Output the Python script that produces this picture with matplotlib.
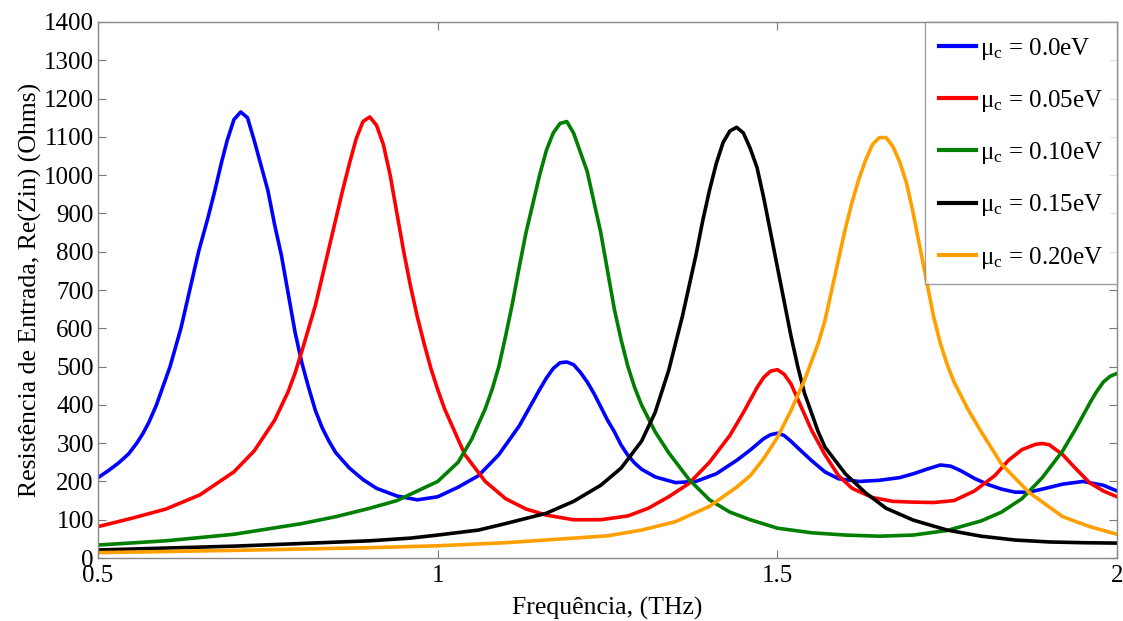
import matplotlib.pyplot as plt
from matplotlib.ticker import FuncFormatter

# Re(Zin) readings per chemical potential (frequency in THz, resistance in Ohms)
f_00 = [0.50, 0.515, 0.53, 0.545, 0.557, 0.566, 0.575, 0.586, 0.596, 0.606, 0.614, 0.622, 0.635, 0.648, 0.662,
        0.672, 0.682, 0.69, 0.70, 0.71, 0.72, 0.73, 0.74, 0.75, 0.76, 0.77, 0.78, 0.79, 0.80, 0.81,
        0.82, 0.83, 0.84, 0.85, 0.87, 0.89, 0.91, 0.94, 0.97, 1.00, 1.03, 1.06, 1.09, 1.12, 1.15,
        1.16, 1.17, 1.18, 1.19, 1.20, 1.21, 1.22, 1.23, 1.24, 1.25, 1.26, 1.27, 1.28, 1.29, 1.30,
        1.32, 1.35, 1.38, 1.41, 1.44, 1.46, 1.48, 1.49, 1.50, 1.51, 1.52, 1.53, 1.55, 1.57, 1.59,
        1.62, 1.65, 1.68, 1.70, 1.72, 1.74, 1.755, 1.77, 1.79, 1.81, 1.83, 1.85, 1.87, 1.89, 1.92,
        1.95, 1.98, 2.00]
r_00 = [210, 228, 248, 272, 300, 325, 355, 400, 450, 500, 550, 600, 700, 800, 890,
        960, 1035, 1090, 1145, 1165, 1150, 1090, 1025, 960, 870, 790, 690, 590, 510, 445,
        385, 340, 305, 275, 235, 205, 182, 162, 152, 160, 185, 215, 270, 345, 440,
        470, 495, 510, 512, 505, 485, 460, 430, 395, 360, 330, 295, 268, 248, 232,
        212, 197, 200, 220, 255, 282, 312, 322, 326, 320, 305, 288, 255, 225, 207,
        200, 203, 210, 220, 232, 243, 240, 228, 208, 192, 180, 172, 172, 180, 193,
        200, 190, 175]

f_05 = [0.50, 0.55, 0.60, 0.65, 0.70, 0.73, 0.76, 0.78, 0.79, 0.80, 0.81, 0.82, 0.84, 0.85, 0.86,
        0.87, 0.88, 0.89, 0.90, 0.91, 0.92, 0.93, 0.94, 0.95, 0.96, 0.97, 0.98, 0.99, 1.00, 1.01,
        1.04, 1.07, 1.10, 1.13, 1.16, 1.20, 1.24, 1.28, 1.31, 1.34, 1.37, 1.40, 1.43, 1.45, 1.47,
        1.48, 1.49, 1.50, 1.51, 1.52, 1.53, 1.54, 1.55, 1.57, 1.59, 1.61, 1.64, 1.67, 1.70, 1.73,
        1.76, 1.79, 1.82, 1.84, 1.86, 1.88, 1.89, 1.90, 1.92, 1.94, 1.96, 1.98, 2.00]
r_05 = [82, 104, 128, 165, 225, 280, 360, 435, 483, 540, 600, 660, 810, 885, 960,
        1030, 1095, 1140, 1152, 1130, 1080, 1000, 900, 800, 710, 630, 560, 495, 440, 390,
        270, 200, 155, 128, 112, 100, 100, 110, 130, 160, 195, 250, 320, 380, 445,
        472, 488, 492, 480, 455, 415, 375, 335, 270, 215, 182, 158, 148, 146, 145,
        150, 175, 215, 255, 283, 297, 299, 296, 270, 232, 196, 175, 160]

f_10 = [0.50, 0.60, 0.70, 0.80, 0.85, 0.90, 0.94, 0.97, 1.00, 1.03, 1.05, 1.07, 1.08, 1.09, 1.10,
        1.11, 1.12, 1.13, 1.14, 1.15, 1.16, 1.17, 1.18, 1.19, 1.20, 1.21, 1.22, 1.23, 1.24, 1.25,
        1.26, 1.27, 1.28, 1.29, 1.30, 1.32, 1.34, 1.37, 1.40, 1.43, 1.46, 1.50, 1.55, 1.60, 1.65,
        1.70, 1.75, 1.80, 1.83, 1.86, 1.89, 1.92, 1.94, 1.96, 1.97, 1.98, 1.99, 2.00]
r_10 = [34, 45, 62, 90, 108, 130, 150, 175, 200, 250, 310, 390, 440, 500, 580,
        665, 760, 850, 925, 1000, 1065, 1110, 1135, 1140, 1110, 1060, 1010, 930, 850, 750,
        650, 570, 500, 445, 400, 330, 275, 205, 152, 120, 100, 78, 66, 60, 57,
        60, 72, 97, 120, 155, 210, 280, 340, 405, 435, 460, 475, 482]

f_15 = [0.50, 0.60, 0.70, 0.80, 0.90, 0.96, 1.00, 1.06, 1.10, 1.16, 1.20, 1.24, 1.27, 1.30, 1.32,
        1.34, 1.35, 1.36, 1.37, 1.38, 1.39, 1.40, 1.41, 1.42, 1.43, 1.44, 1.45, 1.46, 1.47, 1.48,
        1.49, 1.50, 1.51, 1.52, 1.53, 1.54, 1.55, 1.56, 1.57, 1.60, 1.63, 1.66, 1.70, 1.75, 1.80,
        1.85, 1.90, 1.95, 2.00]
r_15 = [21, 26, 31, 38, 45, 52, 60, 73, 90, 117, 148, 190, 235, 305, 380,
        490, 560, 630, 710, 790, 880, 960, 1030, 1085, 1115, 1125, 1110, 1070, 1020, 940,
        850, 760, 670, 580, 500, 430, 380, 330, 290, 220, 170, 130, 99, 73, 57,
        47, 42, 40, 39]

f_20 = [0.50, 0.70, 0.90, 1.00, 1.10, 1.20, 1.25, 1.30, 1.35, 1.40, 1.44, 1.46, 1.48, 1.50, 1.52,
        1.54, 1.56, 1.57, 1.58, 1.59, 1.60, 1.61, 1.62, 1.63, 1.64, 1.65, 1.66, 1.67, 1.68, 1.69,
        1.70, 1.71, 1.72, 1.73, 1.74, 1.75, 1.76, 1.77, 1.78, 1.80, 1.83, 1.87, 1.92, 1.96, 2.00]
r_20 = [14, 20, 27, 32, 40, 52, 58, 73, 95, 135, 185, 215, 260, 315, 385,
        465, 560, 620, 700, 780, 860, 930, 990, 1040, 1080, 1098, 1098, 1075, 1035, 980,
        900, 810, 720, 630, 560, 505, 460, 425, 390, 330, 245, 172, 108, 82, 62]

labels = ['μ$_\\mathrm{c}$ = 0.0eV', 'μ$_\\mathrm{c}$ = 0.05eV', 'μ$_\\mathrm{c}$ = 0.10eV',
          'μ$_\\mathrm{c}$ = 0.15eV', 'μ$_\\mathrm{c}$ = 0.20eV']
colors = ['#0000ff', '#ff0000', '#007f00', '#000000', '#ff9f00']

plt.rcParams['font.family'] = ['Liberation Serif', 'DejaVu Serif']
plt.rcParams['mathtext.fontset'] = 'custom'
plt.rcParams['mathtext.rm'] = 'Liberation Serif'
plt.rcParams['mathtext.it'] = 'Liberation Serif:italic'

fig = plt.figure(figsize=(11.23, 6.21), dpi=100)
ax = fig.add_axes([0.0873, 0.1014, 0.9074, 0.8632])

series = [(f_00, r_00), (f_05, r_05), (f_10, r_10), (f_15, r_15), (f_20, r_20)]
for (f, r), lab, c in zip(series, labels, colors):
    ax.plot(f, r, color=c, lw=2.6, label=lab, solid_joinstyle='round')

ax.set_xlim(0.5, 2)
ax.set_ylim(0, 1400)
ax.set_xticks([0.5, 1, 1.5, 2])
ax.set_yticks(range(0, 1401, 100))
ax.xaxis.set_major_formatter(FuncFormatter(lambda v, p: '%g' % v))
ax.tick_params(direction='in', length=6, width=0.8, color='#777777',
               labelsize=18, top=True, right=True, pad=3)
ax.tick_params(axis='x', pad=5)
for s in ax.spines.values():
    s.set_color('#888888')
    s.set_linewidth(1.0)

ax.set_xlabel('Frequência, (THz)', fontsize=18.5, labelpad=7)
ax.set_ylabel('Resistência de Entrada, Re(Zin) (Ohms)', fontsize=18.5, labelpad=1)

leg = ax.legend(loc='upper right', fontsize=18, frameon=True, fancybox=False,
                borderaxespad=0, handlelength=1.5, handletextpad=0.15,
                labelspacing=1.05, borderpad=0.55)
leg.get_frame().set_edgecolor('#888888')
leg.get_frame().set_linewidth(1.0)
for ln in leg.get_lines():
    ln.set_linewidth(3)

fig.savefig('out.png', dpi=100)
